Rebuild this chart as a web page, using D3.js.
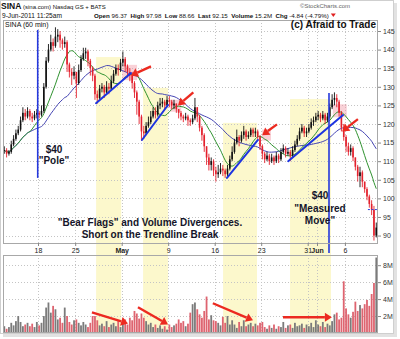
<!DOCTYPE html>
<html><head><meta charset="utf-8">
<script src="https://cdn.jsdelivr.net/npm/d3@7"></script>
<style>
html,body{margin:0;padding:0;background:#fff;}
svg{display:block;font-family:"Liberation Sans",Arial,sans-serif;}
</style></head><body>
<svg id="chart" width="400" height="339"></svg>
<script>
// ---- SINA 60-minute bars, 12 Apr - 9 Jun 2011 (4 bars per session) ----
const sessions = ["Apr 12","Apr 13","Apr 14","Apr 15","Apr 18","Apr 19","Apr 20","Apr 21",
  "Apr 25","Apr 26","Apr 27","Apr 28","Apr 29","May 2","May 3","May 4","May 5","May 6",
  "May 9","May 10","May 11","May 12","May 13","May 16","May 17","May 18","May 19","May 20",
  "May 23","May 24","May 25","May 26","May 27","May 31","Jun 1","Jun 2","Jun 3",
  "Jun 6","Jun 7","Jun 8","Jun 9"];
const BARS_PER_SESSION = 4;
const FIRST_SLOT = 1;          // the series picks up in the second slot of Apr 12

const closes = [
  113, 112, 112.5,
  114.5, 116, 117.5, 118.5,   121, 123, 122, 123.5,   122, 121.5, 122.5, 123,
  122.5, 123.5, 130, 137,     140, 142, 141, 143.5,   144, 142.5, 141.5, 142,
  136, 134, 133, 134,         131, 134.5, 137.5, 139, 139.5, 137, 135, 133,
  128, 127, 129.5, 130,       128.5, 130, 129.5, 131.5, 133.5, 135, 134.5, 136.5,
  137.5, 135.5, 134, 133,     131, 128.5, 126, 122,   118, 117.5, 119.5, 120.5,
  122, 123.5, 122.5, 125,     125.5, 126, 125, 126.5, 126, 125, 125.5, 124,
  123, 122, 121.5, 122,       121, 120.5, 121.5, 124.5, 122, 119, 117, 114,
  111, 109, 110, 107.5,       106.5, 107, 108, 107.5, 106.5, 108, 110.5, 112.5,
  115, 116.5, 115.5, 117,     118, 116.5, 117, 118.5, 117.5, 118, 116.5, 114,
  112, 110.5, 111.5, 110,     111, 110, 111.5, 110.5, 112.5, 113.5, 112, 112.5,
  111.5, 113, 114.5, 116,     118, 119, 117.5, 118,   119, 120.5, 121, 122,
  122.5, 121.5, 122.5, 121,   122, 124.5, 126.5, 127, 126, 123, 119, 116.5,
  114, 112.5, 113.5, 111,     108.5, 106, 107, 104.5, 102.5, 100.5, 98.5, 96.99,
  90, 92.15
];
const highs = [
  114, 113.5, 113,
  115.5, 117, 118.5, 119.5,   122, 124.5, 124, 124.5, 124, 123, 123.5, 124,
  123.5, 125, 131, 138,       141.5, 144, 143, 146,   145.5, 145, 143, 143.5,
  142.5, 136.5, 135, 135.5,   134, 136, 138.5, 140.5, 140.5, 140, 137.5, 135.5,
  133.5, 129, 130.5, 131,     130.5, 131.5, 131, 133, 134.5, 136, 136, 137.5,
  139.5, 138, 136, 135,       134, 131.5, 129, 126.5, 122.5, 119.5, 120.5, 122,
  123.5, 124.5, 124.5, 126,   127, 127, 126.5, 127.5, 127.5, 126.5, 126.5, 125.5,
  124, 123.5, 122.5, 123,     122.5, 121.5, 122.5, 127, 124.5, 122.5, 119.5, 117.5,
  114, 112, 111, 110.5,       108.5, 109, 109.5, 109, 108, 109, 111.5, 114,
  116, 118.5, 117, 118,       119.5, 118.5, 118, 119, 119, 119, 118.5, 117,
  114.5, 112.5, 112.5, 112,   112, 111.5, 112.5, 112, 113.5, 114.5, 114, 113.5,
  113, 114, 115.5, 117,       119, 120, 119.5, 119,   120, 121.5, 122, 123,
  123.5, 123, 123.5, 123,     123, 125.5, 128, 128.5, 128, 126.5, 123.5, 120,
  117, 115, 114.5, 114,       111, 109, 108.5, 107.5, 104.5, 103, 101, 99.5,
  97.98, 93.5
];
const lows = [
  112, 111, 111.5,
  112, 114, 115.5, 117,       118, 120.5, 121, 121.5, 121, 120.5, 121, 121.5,
  121.5, 122, 123, 129.5,     136.5, 139.5, 139.5, 140.5, 142, 140.5, 140, 140.5,
  134, 132.5, 130.5, 132,     127, 130.5, 134, 137,   137.5, 135.5, 133, 131.5,
  126.5, 125.5, 126.5, 128.5, 127, 128, 128, 129,     131, 133, 133, 134,
  135.5, 134, 132.5, 131.5,   129.5, 127, 122.5, 120, 115.5, 116, 117, 119,
  120, 121.5, 121.5, 122,     124, 124.5, 124, 124.5, 124.5, 124, 124, 123,
  121.5, 121, 120.5, 121,     119.5, 119.5, 120, 121, 120.5, 118, 115.5, 112.5,
  109, 107.5, 107.5, 106,     104.5, 105.5, 106.5, 106, 105.5, 106, 107.5, 110,
  112, 114.5, 114, 115,       116, 115.5, 116, 116.5, 116.5, 116.5, 115.5, 113,
  110.5, 109.5, 110, 109,     109.5, 109, 109.5, 109.5, 110, 112, 111, 111.5,
  110, 111, 112.5, 114,       115.5, 117.5, 116.5, 116.5, 117.5, 118.5, 119.5, 120.5,
  121, 120.5, 121, 120,       120.5, 121.5, 124, 125, 124.5, 122, 118, 115.5,
  112.5, 111.5, 111.5, 110,   107.5, 104.5, 103, 103, 101.5, 99.5, 97.5, 95.5,
  88.66, 89.5
];
// volume in millions of shares
const volumes = [
  0.8, 0.5, 0.7,
  1.2, 0.9, 1.4, 2.0,   1.3, 0.8, 1.0, 1.2,   0.8, 1.1, 0.7, 1.3,
  0.9, 1.2, 2.0, 3.0,   3.6, 2.4, 3.2, 2.8,   1.6, 1.8, 1.2, 3.0,
  2.0, 1.3, 1.0, 1.5,   1.6, 1.2, 0.9, 1.3,   1.0, 0.7, 1.2, 2.0,
  2.0, 1.5, 0.9, 1.1,   0.8, 1.4, 0.7, 1.0,   1.2, 0.8, 1.4, 0.7,
  1.1, 1.6, 1.0, 1.8,   1.5, 2.6, 2.3, 1.7,   2.3, 1.8, 1.4, 1.0,
  1.2, 0.7, 1.0, 0.6,   0.9, 0.5, 0.8, 0.4,   1.0, 0.7, 0.9, 1.1,
  1.6, 1.2, 1.4, 0.8,   1.1, 2.4, 3.4, 3.6,   2.8, 2.2, 1.8, 2.6,
  4.3, 1.6, 2.1, 1.5,   1.4, 1.2, 0.9, 1.9,   1.2, 2.0, 1.0, 1.5,
  1.0, 0.6, 1.3, 0.8,   1.5, 0.8, 1.0, 1.2,   0.8, 1.1, 0.9, 1.2,
  1.3, 0.7, 0.5, 0.9,   0.6, 1.0, 0.5, 0.8,   0.7, 1.3, 0.6, 0.9,
  1.0, 0.6, 1.2, 0.8,   0.9, 1.1, 0.6, 1.0,   0.8, 1.2, 0.7, 1.5,
  1.0, 0.8, 1.3, 0.7,   1.1, 0.9, 1.4, 2.2,   2.4, 1.6, 1.8, 6.1,
  2.9, 2.2, 1.8, 2.5,   3.7, 2.6, 3.3, 2.9,   3.4, 3.9, 3.2, 4.6,
  5.9, 8.9
];
const prevClose = 96.99;

// quote line
const quoteKeys = ["Open", "High", "Low", "Last", "Volume", "Chg"];
const quoteVals = ["96.37", "97.98", "88.66", "92.15", "15.2M", "-4.84 (-4.79%)"];

// axes
const priceTicks = [90, 95, 100, 105, 110, 115, 120, 125, 130, 135, 140, 145];
const volumeTicks = [2, 4, 6, 8];
const dateTicks = ["Apr 18","Apr 25","May 2","May 9","May 16","May 23","May 31","Jun 1","Jun 6"];
const dateLabels = ["18","25","May","9","16","23","31","Jun","6"];
const monthLabels = ["May","Jun"];

// moving averages (bars)
const maFast = 12, maSlow = 28;

// ---- annotations (session index, price / volume) ----
const flagZones = [
  { from: 10.25, to: 12.95, top: 138 },
  { from: 15.3,  to: 17.98, top: 129.7 },
  { from: 23.9,  to: 27.55, top: 120.3 },
  { from: 31.1,  to: 35.5,  top: 126.7 }
];
const trendlines = [
  [[10.24, 125.6], [14.0, 133.7]],
  [[15.18, 115.7], [17.98, 125.1]],
  [[24.32, 105.5], [27.65, 115.7]],
  [[30.9, 110.0],  [36.8, 122.4]]
];
const breakZones = [
  { from: 13.05, to: 14.65, hi: 135.9, lo: 131.8 },
  { from: 18.2,  to: 19.4,  hi: 126.5, lo: 123.3 },
  { from: 28.1,  to: 29.05, hi: 118.5, lo: 115.5 },
  { from: 35.7,  to: 37.2,  hi: 125.3, lo: 121.8 }
];
const priceArrows = [
  [[16.15, 135.5], [14.0, 133.0]],
  [[20.7, 128.5],  [19.05, 125.0]],
  [[29.7, 119.9],  [28.1, 117.0]],
  [[38.4, 121.3],  [36.7, 118.0]]
];
const volumeArrows = [
  [[9.8, 2.44],  [13.68, 1.13]],
  [[14.75, 3.04],[17.98, 1.01]],
  [[22.8, 3.51], [27.12, 1.49]],
  [[30.34, 1.85],[35.6, 1.85]]
];
const moveLines = [
  { at: 3.97,  from: 145.3, to: 105.5 },
  { at: 35.29, from: 128.3, to: 85.3 }
];

// ---- layout ----
const svg = d3.select("#chart");
const P = { left: 3, right: 378, top: 20, bottom: 243 };
const V = { top: 255, bottom: 333 };

const x = d3.scaleLinear().domain([0, 41]).range([0.8, 382.1]);
const y = d3.scaleLinear().domain([88, 147.96]).range([P.bottom, P.top]);
const yv = d3.scaleLinear().domain([0, 9.2]).range([V.bottom, V.top]);

const bars = closes.map((c, i) => {
  const s = i + FIRST_SLOT;
  const day = Math.floor(s / BARS_PER_SESSION), slot = s % BARS_PER_SESSION;
  return { t: day + (slot + 0.5) / BARS_PER_SESSION, open: i ? closes[i - 1] : c,
           high: highs[i], low: lows[i], close: c, vol: volumes[i] };
});
const sma = n => bars.map((b, i) => {
  const w = closes.slice(Math.max(0, i - n + 1), i + 1);
  return { t: b.t, v: d3.mean(w) };
});

// frame with drop shadow
svg.append("rect").attr("x", 3).attr("y", 3).attr("width", 394).attr("height", 334).attr("fill", "#e2e2e2");
svg.append("rect").attr("x", 0.5).attr("y", 0.5).attr("width", 393).attr("height", 333)
  .attr("fill", "#fff").attr("stroke", "#cfcfcf");

// panels
svg.append("rect").attr("x", P.left).attr("y", P.top).attr("width", P.right - P.left).attr("height", P.bottom - P.top).attr("fill", "#fff");
svg.append("rect").attr("x", P.left).attr("y", V.top).attr("width", P.right - P.left).attr("height", V.bottom - V.top).attr("fill", "#fff");

// flag zones
svg.append("g").selectAll("rect").data(flagZones).join("rect")
  .attr("x", d => x(d.from)).attr("width", d => x(d.to) - x(d.from))
  .attr("y", d => y(d.top)).attr("height", d => V.bottom - y(d.top))
  .attr("fill", "#fcf8cc");

// grid
const grid = svg.append("g").attr("stroke", "#c4c4c4").attr("stroke-dasharray", "1,2").attr("stroke-width", 1);
grid.selectAll("line.h").data(priceTicks).join("line")
  .attr("x1", P.left).attr("x2", P.right).attr("y1", d => Math.round(y(d)) + 0.5).attr("y2", d => Math.round(y(d)) + 0.5);
grid.selectAll("line.hv").data(volumeTicks).join("line")
  .attr("x1", P.left).attr("x2", P.right).attr("y1", d => Math.round(yv(d)) + 0.5).attr("y2", d => Math.round(yv(d)) + 0.5);
const tickX = dateTicks.map(d => Math.round(x(sessions.indexOf(d))) + 0.5);
tickX.forEach(tx => {
  grid.append("line").attr("x1", tx).attr("x2", tx).attr("y1", P.top).attr("y2", P.bottom);
  grid.append("line").attr("x1", tx).attr("x2", tx).attr("y1", V.top).attr("y2", V.bottom);
});

// breakdown highlights
svg.append("g").selectAll("rect").data(breakZones).join("rect")
  .attr("x", d => x(d.from)).attr("width", d => x(d.to) - x(d.from))
  .attr("y", d => y(d.hi)).attr("height", d => y(d.lo) - y(d.hi))
  .attr("fill", "#f29aa6").attr("opacity", 0.45);

// volume bars
svg.append("g").selectAll("rect").data(bars).join("rect")
  .attr("x", d => x(d.t) - 0.9).attr("width", 1.8)
  .attr("y", d => yv(d.vol)).attr("height", d => V.bottom - yv(d.vol))
  .attr("fill", d => d.close >= d.open ? "#7b7b7b" : "#de6470");

// moving averages
const line = d3.line().x(d => x(d.t)).y(d => y(d.v)).curve(d3.curveMonotoneX);
svg.append("path").datum(sma(maSlow)).attr("d", line).attr("fill", "none").attr("stroke", "#4646b4").attr("stroke-width", 1);
svg.append("path").datum(sma(maFast)).attr("d", line).attr("fill", "none").attr("stroke", "#2f922f").attr("stroke-width", 1);

// candles
const candles = svg.append("g");
candles.selectAll("line").data(bars).join("line")
  .attr("x1", d => x(d.t)).attr("x2", d => x(d.t))
  .attr("y1", d => y(d.high)).attr("y2", d => y(d.low))
  .attr("stroke", d => d.close >= d.open ? "#111" : "#e3202c").attr("stroke-width", 0.9);
candles.selectAll("rect").data(bars).join("rect")
  .attr("x", d => x(d.t) - 0.8).attr("width", 1.6)
  .attr("y", d => y(Math.max(d.open, d.close)))
  .attr("height", d => Math.max(0.8, Math.abs(y(d.open) - y(d.close))))
  .attr("fill", d => d.close >= d.open ? "#111" : "#e3202c");

// previous close marker
const lastT = bars[bars.length - 1].t;
svg.append("line").attr("x1", x(lastT - 0.9)).attr("x2", P.right)
  .attr("y1", y(prevClose)).attr("y2", y(prevClose))
  .attr("stroke", "#2a3fdc").attr("stroke-dasharray", "2,1.5").attr("stroke-width", 1);

// trendlines and measuring lines
svg.append("g").selectAll("line").data(trendlines).join("line")
  .attr("x1", d => x(d[0][0])).attr("y1", d => y(d[0][1]))
  .attr("x2", d => x(d[1][0])).attr("y2", d => y(d[1][1]))
  .attr("stroke", "#1d34e0").attr("stroke-width", 2).attr("stroke-linecap", "round");
svg.append("g").selectAll("line").data(moveLines).join("line")
  .attr("x1", d => x(d.at)).attr("x2", d => x(d.at))
  .attr("y1", d => y(d.from)).attr("y2", d => y(d.to))
  .attr("stroke", "#2538dc").attr("stroke-width", 1.6);

// arrows
function arrow(g, x1, y1, x2, y2) {
  const a = Math.atan2(y2 - y1, x2 - x1), L = 7, w = 4.5;
  const bx = x2 - L * Math.cos(a), by = y2 - L * Math.sin(a);
  g.append("line").attr("x1", x1).attr("y1", y1).attr("x2", bx).attr("y2", by)
    .attr("stroke", "#ec2a20").attr("stroke-width", 2.4);
  g.append("path").attr("fill", "#ec2a20").attr("d",
    `M${x2},${y2}L${bx + w * Math.sin(a)},${by - w * Math.cos(a)}L${bx - w * Math.sin(a)},${by + w * Math.cos(a)}Z`);
}
const ag = svg.append("g");
priceArrows.forEach(([s, e]) => arrow(ag, x(s[0]), y(s[1]), x(e[0]), y(e[1])));
volumeArrows.forEach(([s, e]) => arrow(ag, x(s[0]), yv(s[1]), x(e[0]), yv(e[1])));

// panel borders
svg.append("rect").attr("x", P.left + 0.5).attr("y", P.top + 0.5).attr("width", P.right - P.left - 1).attr("height", P.bottom - P.top)
  .attr("fill", "none").attr("stroke", "#a8a8a8");
svg.append("rect").attr("x", P.left + 0.5).attr("y", V.top + 0.5).attr("width", P.right - P.left - 1).attr("height", V.bottom - V.top - 1)
  .attr("fill", "none").attr("stroke", "#a8a8a8");

// right axes
const axStyle = g => {
  g.select(".domain").remove();
  g.selectAll(".tick line").attr("stroke", "#888");
  g.selectAll(".tick text").attr("font-size", 7).attr("fill", "#333").attr("font-family", "Liberation Sans, Arial, sans-serif");
};
svg.append("g").attr("transform", `translate(${P.right},0)`)
  .call(d3.axisRight(y).tickValues(priceTicks).tickSize(3).tickPadding(2)).call(axStyle);
svg.append("g").attr("transform", `translate(${P.right},0)`)
  .call(d3.axisRight(yv).tickValues(volumeTicks).tickSize(3).tickPadding(2).tickFormat(d => d + "M")).call(axStyle);

// date axis
svg.append("g").attr("transform", `translate(0,${P.bottom})`)
  .call(d3.axisBottom(x).tickValues(dateTicks.map(d => sessions.indexOf(d))).tickSize(3).tickPadding(2)
    .tickFormat((d, i) => dateLabels[i]))
  .call(g => {
    g.select(".domain").remove();
    g.selectAll(".tick line").attr("stroke", "#888");
    g.selectAll(".tick text").attr("font-size", 7).attr("fill", "#222")
      .attr("font-family", "Liberation Sans, Arial, sans-serif")
      .attr("font-weight", (d, i) => monthLabels.includes(dateLabels[i]) ? "bold" : "normal");
  });

// header
const hdr = svg.append("g").attr("fill", "#111");
hdr.append("text").attr("x", 1).attr("y", 9).attr("font-weight", "bold").attr("font-size", 8.5).text("SINA");
hdr.append("text").attr("x", 23).attr("y", 9).attr("font-size", 6).text("(sina.com) Nasdaq GS + BATS");
hdr.append("text").attr("x", 300).attr("y", 7.5).attr("font-size", 6).attr("fill", "#666").text("©StockCharts.com");
hdr.append("text").attr("x", 2).attr("y", 17.5).attr("font-size", 6.6).text("9-Jun-2011 11:25am");
const qt = hdr.append("text").attr("x", 94).attr("y", 17.5).attr("font-size", 6.2);
quoteKeys.forEach((k, i) => {
  qt.append("tspan").attr("font-weight", "bold").text((i ? "  " : "") + k);
  qt.append("tspan").text(" " + quoteVals[i]);
});
qt.attr("xml:space", "preserve").style("white-space", "pre");
const endX = 94 + qt.node().getComputedTextLength();
hdr.append("path").attr("d", `M${endX + 2},13.5L${endX + 7},13.5L${endX + 4.5},17Z`).attr("fill", "#e02020");
hdr.append("text").attr("x", 376).attr("y", 28).attr("text-anchor", "end")
  .attr("font-size", 10).attr("font-weight", "bold").text("(c) Afraid to Trade");
hdr.append("text").attr("x", 5).attr("y", 27).attr("font-size", 7).text("SINA (60 min)");

// notes
const note = svg.append("g").attr("font-size", 10).attr("font-weight", "bold").attr("fill", "#15152a").attr("text-anchor", "middle");
note.append("text").attr("x", 54).attr("y", 153).text("$40");
note.append("text").attr("x", 54).attr("y", 164).text("\"Pole\"");
note.append("text").attr("x", 320).attr("y", 199).text("$40");
note.append("text").attr("x", 320).attr("y", 212).text("\"Measured");
note.append("text").attr("x", 320).attr("y", 224).text("Move\"");
note.append("text").attr("x", 150).attr("y", 226).text("\"Bear Flags\" and Volume Divergences.");
note.append("text").attr("x", 150).attr("y", 238).text("Short on the Trendline Break");
</script>
</body></html>
